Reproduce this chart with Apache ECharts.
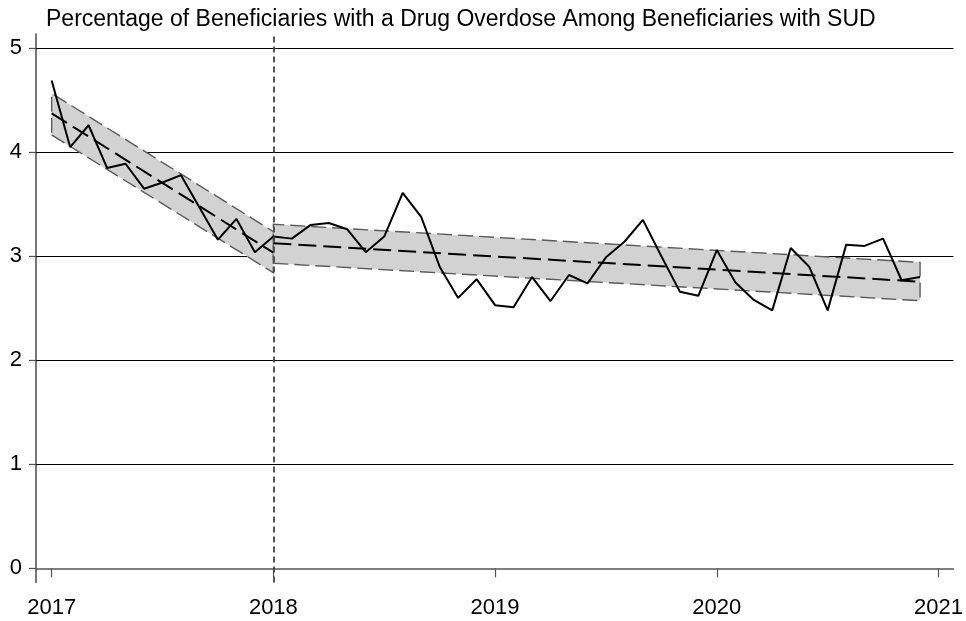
<!DOCTYPE html>
<html>
<head>
<meta charset="utf-8">
<script src="https://cdn.jsdelivr.net/npm/echarts@6/dist/echarts.min.js"></script>
<style>
  html, body { margin: 0; padding: 0; background: #fff; }
  #chart { width: 966px; height: 621px; }
</style>
</head>
<body>
<div id="chart"></div>
<script>
// --- Data ---
const titleText = 'Percentage of Beneficiaries with a Drug Overdose Among Beneficiaries with SUD';
const startYear = 2017;
// monthly share (%) Jan 2017 .. Dec 2020
const monthlyPct = [
    4.69, 4.05, 4.26, 3.85, 3.89, 3.65, 3.71, 3.78, 3.47, 3.16, 3.36, 3.04,
    3.19, 3.17, 3.30, 3.32, 3.26, 3.04, 3.19, 3.61, 3.38, 2.90, 2.60, 2.78,
    2.53, 2.51, 2.80, 2.57, 2.82, 2.74, 2.99, 3.14, 3.35, 3.00, 2.66, 2.62,
    3.06, 2.75, 2.58, 2.48, 3.08, 2.90, 2.48, 3.11, 3.10, 3.17, 2.77, 2.80
];
// linear trends with confidence bands: [x, fit, lower, upper]
const preTrend = [
    [2017, 4.375, 4.167, 4.567],
    [2018, 3.035, 2.842, 3.237]
];
const postTrend = [
    [2018, 3.125, 2.933, 3.308],
    [2020.9167, 2.756, 2.573, 2.942]
];
const policyYear = 2018;
const yearTicks = [2017, 2018, 2019, 2020, 2021];
const yTicks = [0, 1, 2, 3, 4, 5];
const gridVals = [1, 2, 3, 4, 5];

// --- Chart ---
const chart = echarts.init(document.getElementById('chart'));
const font = 'Liberation Sans, Arial, Helvetica, sans-serif';
const bandFill = '#d2d2d2';
const bandEdge = '#5a5a5a';

// shaded confidence band: polygon lower -> upper (reversed) with dashed outline
function bandSeries(name, trend) {
    return [
        {
            name: name + ' band', type: 'custom', z: 2, silent: true,
            data: trend,
            encode: { x: 0, y: [1, 2, 3] },
            renderItem: function (params, api) {
                if (params.dataIndex !== 0) return;
                const lower = trend.map(d => api.coord([d[0], d[2]]));
                const upper = trend.map(d => api.coord([d[0], d[3]]));
                const poly = lower.concat(upper.slice().reverse());
                return {
                    type: 'polygon',
                    shape: { points: poly },
                    style: { fill: bandFill, stroke: bandEdge, lineWidth: 1.4, lineDash: [15, 6] }
                };
            }
        },
        {
            name: name + ' fit', type: 'line', z: 3,
            data: trend.map(d => [d[0], d[1]]),
            symbol: 'none', silent: true,
            lineStyle: { color: '#000', width: 2, type: [18, 7] }
        }
    ];
}

const option = {
    animation: false,
    title: {
        text: titleText,
        left: 41, top: 3,
        textStyle: { fontFamily: font, fontSize: 23, fontWeight: 'normal', color: '#000' }
    },
    grid: { left: 36, right: 9, top: 34, bottom: 38.5 },
    xAxis: {
        type: 'value',
        min: 2016.9294, max: 2021.0674,
        axisLine: { show: true, lineStyle: { color: '#555', width: 1.6 } },
        axisTick: { show: true, length: 9, customValues: yearTicks, lineStyle: { color: '#555', width: 1.2 } },
        axisLabel: {
            customValues: yearTicks, margin: 14,
            fontFamily: font, fontSize: 22, color: '#000',
            formatter: v => String(v)
        },
        splitLine: { show: false }
    },
    yAxis: {
        type: 'value',
        min: -0.1365, max: 5.1375,
        axisLine: { show: true, lineStyle: { color: '#555', width: 1.6 } },
        axisTick: { show: true, length: 7, customValues: yTicks, lineStyle: { color: '#555', width: 1.2 } },
        axisLabel: {
            customValues: yTicks, margin: 14,
            fontFamily: font, fontSize: 22, color: '#000',
            formatter: v => String(v)
        },
        splitLine: { show: false }
    },
    series: [
        {
            name: 'gridlines', type: 'line', z: 1,
            data: [], symbol: 'none', silent: true,
            markLine: {
                z: 1, silent: true, symbol: 'none', animation: false,
                label: { show: false },
                lineStyle: { color: '#000', width: 1.2, type: 'solid' },
                data: gridVals.map(v => ({ yAxis: v }))
            }
        },
        ...bandSeries('pre', preTrend),
        ...bandSeries('post', postTrend),
        {
            name: 'Overdose %', type: 'line', z: 4,
            data: monthlyPct.map((v, i) => [startYear + i / 12, v]),
            symbol: 'none', silent: true,
            lineStyle: { color: '#000', width: 2 }
        },
        {
            name: 'policy', type: 'line', z: 5,
            data: [], symbol: 'none', silent: true,
            markLine: {
                z: 5, silent: true, symbol: 'none', animation: false,
                label: { show: false },
                lineStyle: { color: '#444', width: 1.8, type: [6, 4] },
                data: [{ xAxis: policyYear }]
            }
        }
    ]
};
chart.setOption(option);
</script>
</body>
</html>
